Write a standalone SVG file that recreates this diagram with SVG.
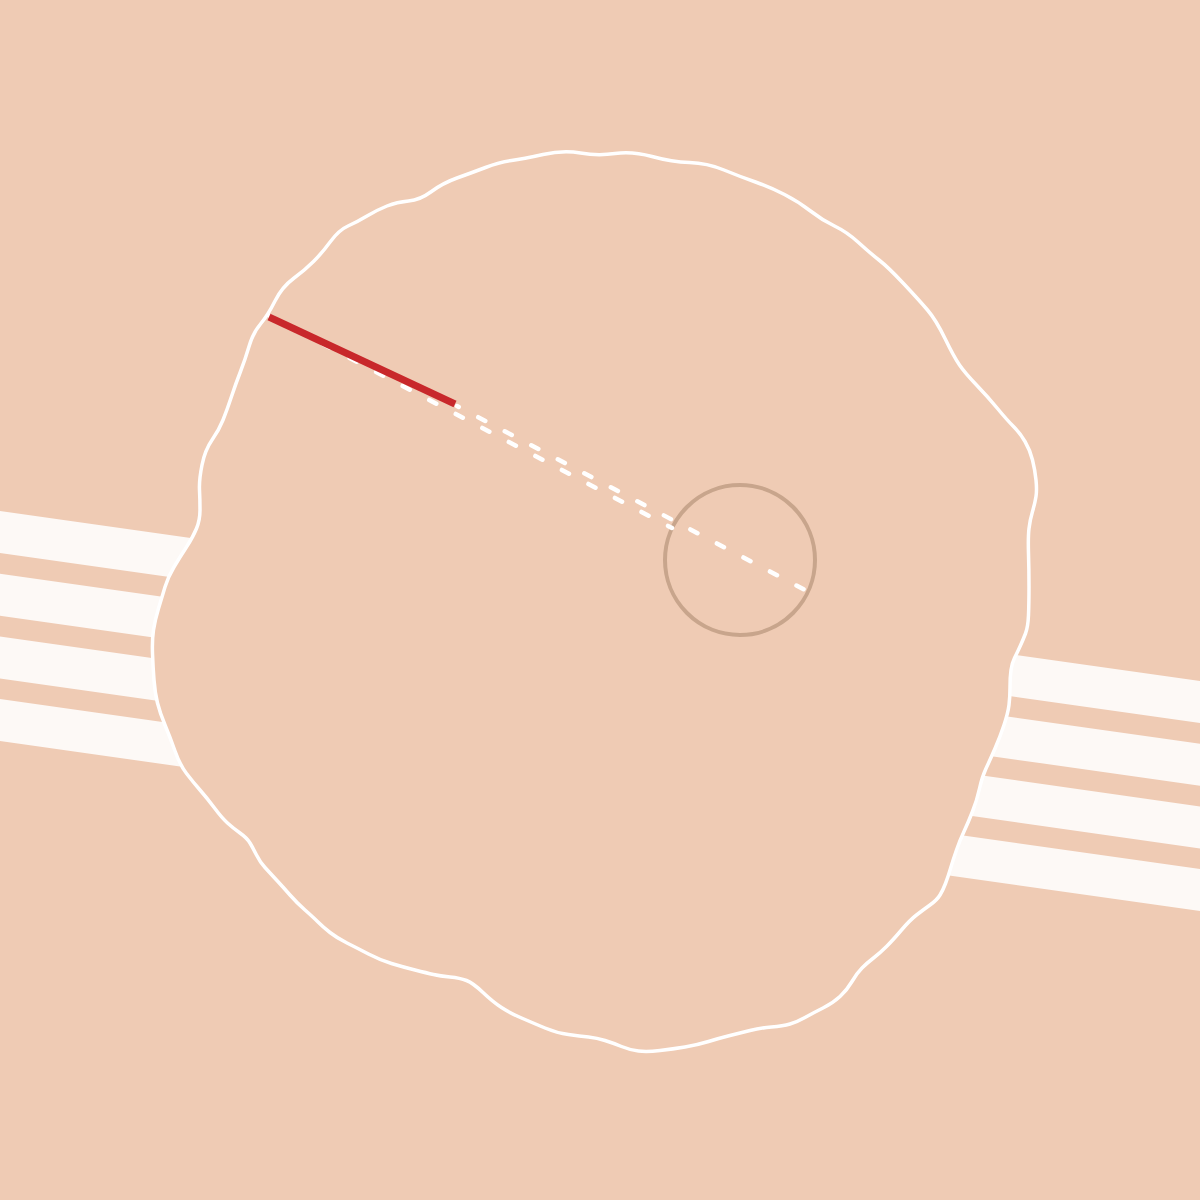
<svg xmlns="http://www.w3.org/2000/svg" width="1200" height="1200" viewBox="0 0 1200 1200">
<style>
.bg{fill:#efcbb4}
.stripe{fill:#fdf9f6}
.blob{fill:#efcbb4;stroke:#ffffff;stroke-width:3.5;stroke-linejoin:round}
.ring{fill:none;stroke:#c8a58c;stroke-width:4}
.dash{stroke:#ffffff;stroke-width:4.5;stroke-linecap:round;stroke-dasharray:8 22;fill:none}
.red{stroke:#c8282b;stroke-width:7;stroke-linecap:butt}
</style>
<rect class="bg" x="0" y="0" width="1200" height="1200"/>
<g id="stripes">
<polygon class="stripe" points="0,511 1200,681 1200,723 0,553"/>
<polygon class="stripe" points="0,573.7 1200,743.7 1200,785.7 0,615.7"/>
<polygon class="stripe" points="0,636.4 1200,806.4 1200,848.4 0,678.4"/>
<polygon class="stripe" points="0,699 1200,869 1200,911 0,741"/>
</g>
<g id="blob">
<path class="blob" d="M543,154.5 Q563,150 580.5,153 Q598,156 615,153.5 Q632,151 652,156.5 Q672,162 689.5,162.5 Q707,163 724,170 Q741,177 755.5,182 Q770,187 784.5,194.5 Q799,202 810.5,211 Q822,220 834.5,226 Q847,232 858.5,242.5 Q870,253 879,260 Q888,267 903.5,283.5 Q919,300 927.5,310 Q936,320 945,338.5 Q954,357 959.5,365 Q965,373 976.5,385 Q988,397 997.5,408.5 Q1007,420 1013.5,426.5 Q1020,433 1025,441.5 Q1030,450 1032.5,460 Q1035,470 1036,480 Q1037,490 1036,496.5 Q1035,503 1032.5,511.5 Q1030,520 1029,528.5 Q1028,537 1028.5,553.5 Q1029,570 1029,586.5 Q1029,603 1028.5,615 Q1028,627 1025.5,633.5 Q1023,640 1020,646.5 Q1017,653 1014.5,658 Q1012,663 1011,670 Q1010,677 1010,687 Q1010,697 1009,705 Q1008,713 1004,725 Q1000,737 995,748.5 Q990,760 986,768.5 Q982,777 979.5,788.5 Q977,800 972.5,811.5 Q968,823 964,831.5 Q960,840 956.5,850 Q953,860 950.5,868.5 Q948,877 945.5,883.5 Q943,890 940,895 Q937,900 930,905 Q923,910 916.5,915 Q910,920 901.5,930 Q893,940 886.5,946.5 Q880,953 873.5,958 Q867,963 862,968 Q857,973 852,981.5 Q847,990 840,996.5 Q833,1003 823,1008 Q813,1013 805,1017.5 Q797,1022 790,1024 Q783,1026 771.5,1027 Q760,1028 750,1030.5 Q740,1033 730,1035.5 Q720,1038 708.5,1041.5 Q697,1045 685,1047 Q673,1049 660,1050.5 Q647,1052 638.5,1051 Q630,1050 621.5,1046.5 Q613,1043 605,1040.5 Q597,1038 588.5,1037 Q580,1036 568.5,1034.5 Q557,1033 545,1028 Q533,1023 521.5,1018 Q510,1013 501.5,1007.5 Q493,1002 483,992.5 Q473,983 466.5,980.5 Q460,978 450,977 Q440,976 433.5,974.5 Q427,973 415,970 Q403,967 391.5,963.5 Q380,960 368.5,954 Q357,948 347,943 Q337,938 330,932.5 Q323,927 318,922 Q313,917 305,910 Q297,903 290,895 Q283,887 276.5,880 Q270,873 265,867.5 Q260,862 256.5,855 Q253,848 250,843 Q247,838 240,833 Q233,828 227.5,823 Q222,818 214.5,808 Q207,798 200,790 Q193,782 186.5,773.5 Q180,765 175,751 Q170,737 165,725 Q160,713 157.5,703 Q155,693 154,680 Q153,667 152.5,653.5 Q152,640 153.5,630 Q155,620 158.5,608.5 Q162,597 165,587 Q168,577 174,567 Q180,557 186.5,547 Q193,537 196.5,528.5 Q200,520 200,510 Q200,500 199.5,490 Q199,480 202,465 Q205,450 212,440 Q219,430 223,420 Q227,410 231.5,396.5 Q236,383 240.5,371.5 Q245,360 249,346.5 Q253,333 260.5,324 Q268,315 275,301 Q282,287 293.5,278.5 Q305,270 313.5,261.5 Q322,253 330.5,241.5 Q339,230 348,226 Q357,222 367,216 Q377,210 387,206 Q397,202 408.5,201 Q420,200 431.5,191.5 Q443,183 457,178 Q471,173 485.5,167.5 Q500,162 511.5,160.5 Q523,159 543,154.5 Z"/>
</g>
<g id="target-circle">
<circle class="ring" cx="740" cy="560" r="75"/>
</g>
<g id="connectors">
<line class="dash" x1="270" y1="316" x2="672" y2="528"/>
<line class="dash" style="stroke-dashoffset:6" x1="457" y1="406" x2="805" y2="590"/>
<line class="red" x1="269" y1="317" x2="455" y2="404"/>
</g>
</svg>
